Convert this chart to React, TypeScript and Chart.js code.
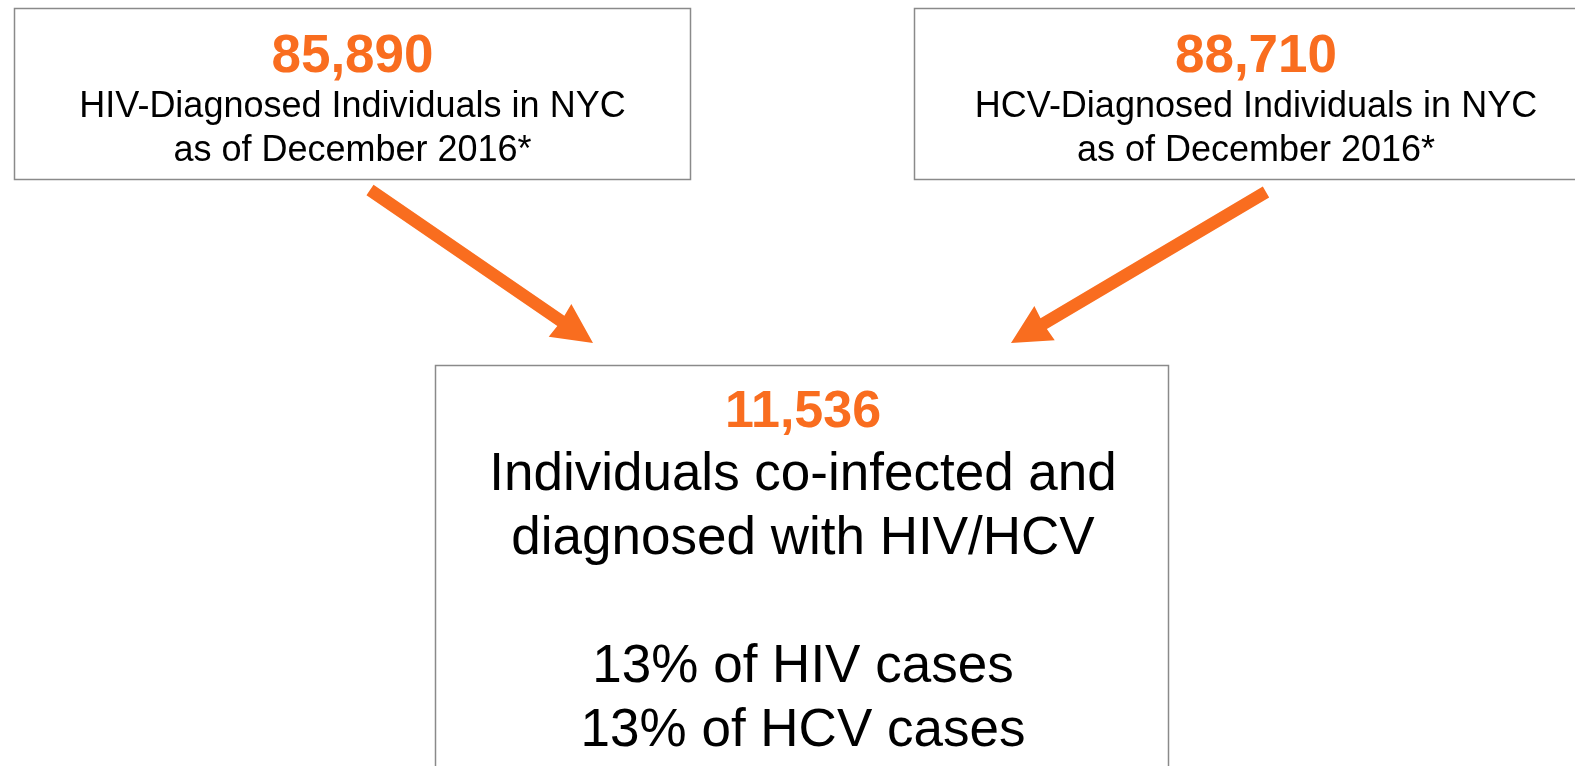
import React, { useEffect, useRef } from "react";
import { Chart, registerables } from "chart.js";
Chart.register(...registerables);

// ---- data ----
const countLabels = ["85,890", "88,710", "11,536"];
const hivLines = ["HIV-Diagnosed Individuals in NYC", "as of December 2016*"];
const hcvLines = ["HCV-Diagnosed Individuals in NYC", "as of December 2016*"];
const coLines = ["Individuals co-infected and", "diagnosed with HIV/HCV", "", "13% of HIV cases", "13% of HCV cases"];

// ---- layout (data space = page pixels) ----
const W = 1575;
const H = 766;
const ORANGE = "#F96D1F";
const BORDER = "#8a8a8a";
const FONT = "'Liberation Sans', Arial, Helvetica, sans-serif";

type Box = { x0: number; x1: number; y0: number; y1: number; cx: number; numBase: number; numSize: number; lines: string[]; lineBase: number; lineStep: number; lineSize: number; label: string };

const boxes: Box[] = [
  { x0: 14.5, x1: 690.5, y0: 8.5, y1: 179.5, cx: 352.5, numBase: 72, numSize: 53, lines: hivLines, lineBase: 117, lineStep: 44, lineSize: 36, label: countLabels[0] },
  { x0: 914.5, x1: 1592, y0: 8.5, y1: 179.5, cx: 1256, numBase: 72, numSize: 53, lines: hcvLines, lineBase: 117, lineStep: 44, lineSize: 36, label: countLabels[1] },
  { x0: 435.5, x1: 1168.5, y0: 365.5, y1: 790, cx: 803, numBase: 427, numSize: 52, lines: coLines, lineBase: 490, lineStep: 64, lineSize: 53, label: countLabels[2] },
];

const arrows = [
  { tail: [370, 190], tip: [593, 343], headLen: 40, headW: 40, shaftW: 12.5 },
  { tail: [1266, 192], tip: [1011, 343], headLen: 39, headW: 40, shaftW: 12.5 },
];

const diagramPlugin = {
  id: "diagram",
  afterDraw(chart: any) {
    const ctx = chart.ctx as CanvasRenderingContext2D;
    const xs = chart.scales.x;
    const ys = chart.scales.y;
    const px = (v: number) => xs.getPixelForValue(v);
    const py = (v: number) => ys.getPixelForValue(v);
    ctx.save();
    // boxes
    boxes.forEach((b) => {
      ctx.strokeStyle = BORDER;
      ctx.lineWidth = 1.5;
      ctx.strokeRect(px(b.x0), py(b.y0), px(b.x1) - px(b.x0), py(b.y1) - py(b.y0));
      ctx.textAlign = "center";
      ctx.textBaseline = "alphabetic";
      ctx.fillStyle = ORANGE;
      ctx.font = `bold ${b.numSize}px ${FONT}`;
      ctx.fillText(b.label, px(b.cx), py(b.numBase));
      ctx.fillStyle = "#000";
      ctx.font = `${b.lineSize}px ${FONT}`;
      b.lines.forEach((t, i) => {
        if (t) ctx.fillText(t, px(b.cx), py(b.lineBase + i * b.lineStep));
      });
    });
    // arrows
    ctx.fillStyle = ORANGE;
    arrows.forEach((a) => {
      const tx = px(a.tail[0]), ty = py(a.tail[1]);
      const hx = px(a.tip[0]), hy = py(a.tip[1]);
      const dx = hx - tx, dy = hy - ty;
      const len = Math.hypot(dx, dy);
      const ux = dx / len, uy = dy / len;
      const nx = -uy, ny = ux;
      const bx = hx - ux * a.headLen, by = hy - uy * a.headLen;
      const s = a.shaftW / 2, h = a.headW / 2;
      ctx.beginPath();
      ctx.moveTo(tx + nx * s, ty + ny * s);
      ctx.lineTo(bx + nx * s + ux * 1, by + ny * s + uy * 1);
      ctx.lineTo(bx + nx * h, by + ny * h);
      ctx.lineTo(hx, hy);
      ctx.lineTo(bx - nx * h, by - ny * h);
      ctx.lineTo(bx - nx * s + ux * 1, by - ny * s + uy * 1);
      ctx.lineTo(tx - nx * s, ty - ny * s);
      ctx.closePath();
      ctx.fill();
    });
    ctx.restore();
  },
};

export default function App() {
  const ref = useRef<HTMLCanvasElement | null>(null);
  useEffect(() => {
    document.body.style.margin = "0";
    if (!ref.current) return;
    const chart = new Chart(ref.current, {
      type: "scatter",
      data: { datasets: [{ data: [], pointRadius: 0 }] },
      options: {
        animation: false,
        responsive: true,
        maintainAspectRatio: false,
        layout: { padding: 0 },
        plugins: { legend: { display: false }, tooltip: { enabled: false } },
        scales: {
          x: { type: "linear", min: 0, max: W, display: false },
          y: { type: "linear", min: 0, max: H, reverse: true, display: false },
        },
      },
      plugins: [diagramPlugin],
    });
    return () => chart.destroy();
  }, []);
  return (
    <div style={{ position: "fixed", left: 0, top: 0, width: W, height: H, background: "#fff" }}>
      <canvas ref={ref} />
    </div>
  );
}
